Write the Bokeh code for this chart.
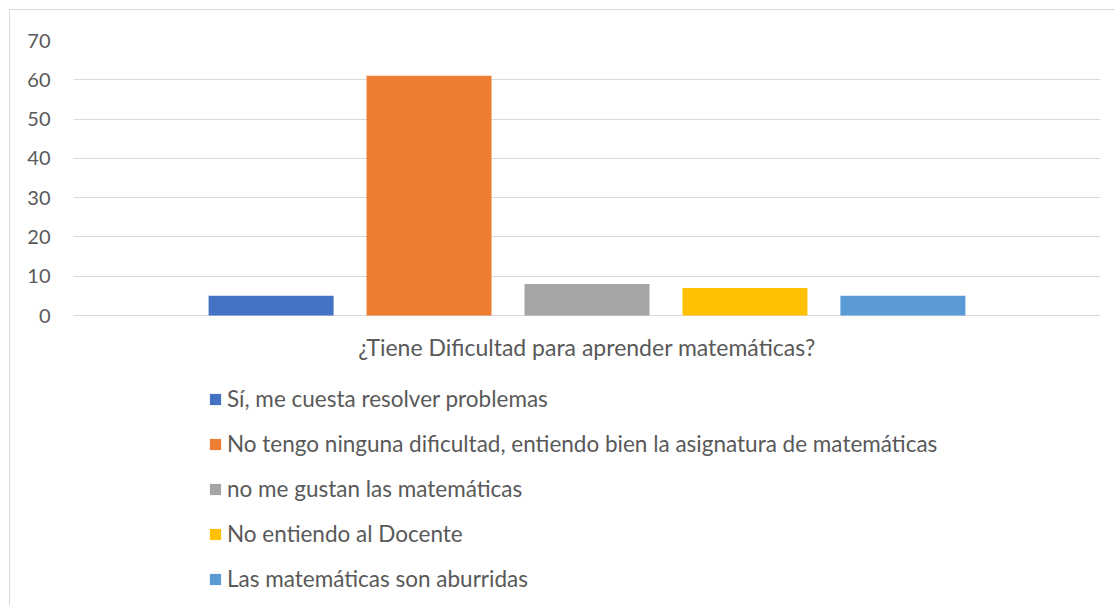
from bokeh.plotting import figure
from bokeh.models import FactorRange, Range1d, FixedTicker, Legend, LegendItem, ColumnDataSource
from bokeh.core.properties import value
from bokeh.transform import dodge
from bokeh.embed import file_html
from bokeh.resources import INLINE

category = ["¿Tiene Dificultad para aprender matemáticas?"]
series = [
    "Sí, me cuesta resolver problemas",
    "No tengo ninguna dificultad, entiendo bien la asignatura de matemáticas",
    "no me gustan las matemáticas",
    "No entiendo al Docente",
    "Las matemáticas son aburridas",
]
values = [5, 61, 8, 7, 5]
colors = ["#4472C4", "#ED7D31", "#A5A5A5", "#FFC000", "#5B9BD5"]
y_ticks = [0, 10, 20, 30, 40, 50, 60, 70]

FONT = "Lato"
TXT = "#595959"
GRID = "#d9d9d9"

# layout: value axis 0..70 occupies the upper 275px of a 566px tall frame;
# the space below hosts the category label and legend (Excel-like layout)
frame_h = 566
axis_px = 275
y_max = 70
y_min = -y_max * (frame_h - axis_px) / axis_px

p = figure(
    x_range=FactorRange(factors=category, range_padding=0),
    y_range=Range1d(y_min, y_max),
    width=1106, height=596,
    output_backend="svg", toolbar_location=None,
    min_border_left=63, min_border_right=16, min_border_top=30, min_border_bottom=0,
)
p.styles = {"margin-left": "9px", "margin-top": "9px",
            "border-left": "1px solid #d9d9d9", "border-top": "1px solid #d9d9d9"}
p.outline_line_color = None
p.background_fill_color = "white"
p.border_fill_color = "white"

bar_w = 0.1217
step = 0.1538
items = []
n = len(series)
for i, (name, v, c) in enumerate(zip(series, values, colors)):
    src = ColumnDataSource(dict(cat=category, val=[v]))
    r = p.vbar(x=dodge("cat", (i - (n - 1) / 2) * step, range=p.x_range), top="val", bottom=0,
               width=bar_w, source=src, fill_color=c, line_color=None)
    items.append(LegendItem(label=name, renderers=[r]))

# category label under the zero line
label_src = ColumnDataSource(dict(cat=category, y=[-31 * y_max / axis_px]))
p.text(x="cat", y="y", text="cat", source=label_src, text_align="center",
       text_baseline="middle", text_font=value(FONT), text_font_size="23px", text_color=TXT)

legend = Legend(items=items, location=(135, 14), orientation="vertical",
                padding=0, margin=0, border_line_color=None, background_fill_alpha=0,
                glyph_width=14, glyph_height=14, label_height=20, spacing=18,
                label_standoff=5, label_text_font=FONT, label_text_font_size="22.5px",
                label_text_color=TXT)
p.add_layout(legend, "center")

p.xaxis.visible = False
p.yaxis.ticker = FixedTicker(ticks=y_ticks)
p.yaxis.axis_line_color = None
p.yaxis.major_tick_line_color = None
p.yaxis.minor_tick_line_color = None
p.yaxis.major_label_standoff = 17
p.yaxis.major_label_text_font = FONT
p.yaxis.major_label_text_font_size = "20px"
p.yaxis.major_label_text_color = TXT

p.xgrid.grid_line_color = None
p.ygrid.grid_line_color = GRID
p.ygrid.grid_line_width = 1

open("out.html", "w").write(file_html(p, INLINE))
